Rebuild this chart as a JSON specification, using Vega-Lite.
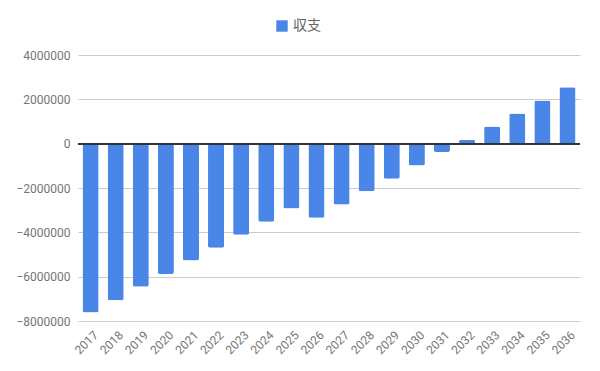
{
  "$schema": "https://vega.github.io/schema/vega-lite/v6.json",
  "autosize": {"type": "none"},
  "width": 502,
  "height": 266,
  "padding": {"left": 78, "top": 55, "right": 20, "bottom": 50},
  "background": "white",
  "config": {
    "view": {"stroke": null},
    "font": "Roboto",
    "axis": {"labelFont": "Roboto", "labelColor": "#757575", "labelFontSize": 12}
  },
  "data": {
    "values": [
      {"year": "2017", "series": "収支", "value": -7620000},
      {"year": "2018", "series": "収支", "value": -7060000},
      {"year": "2019", "series": "収支", "value": -6450000},
      {"year": "2020", "series": "収支", "value": -5880000},
      {"year": "2021", "series": "収支", "value": -5270000},
      {"year": "2022", "series": "収支", "value": -4700000},
      {"year": "2023", "series": "収支", "value": -4110000},
      {"year": "2024", "series": "収支", "value": -3520000},
      {"year": "2025", "series": "収支", "value": -2930000},
      {"year": "2026", "series": "収支", "value": -3340000},
      {"year": "2027", "series": "収支", "value": -2750000},
      {"year": "2028", "series": "収支", "value": -2150000},
      {"year": "2029", "series": "収支", "value": -1580000},
      {"year": "2030", "series": "収支", "value": -990000},
      {"year": "2031", "series": "収支", "value": -380000},
      {"year": "2032", "series": "収支", "value": 170000},
      {"year": "2033", "series": "収支", "value": 770000},
      {"year": "2034", "series": "収支", "value": 1360000},
      {"year": "2035", "series": "収支", "value": 1950000},
      {"year": "2036", "series": "収支", "value": 2550000}
    ]
  },
  "layer": [
    {
      "mark": {"type": "bar", "cornerRadius": 2},
      "encoding": {
        "x": {
          "field": "year", "type": "ordinal", "title": null,
          "scale": {"paddingInner": 0.36, "paddingOuter": 0.18},
          "axis": {"labelAngle": -45, "labelAlign": "right", "labelBaseline": "top", "ticks": false, "domain": false, "labelPadding": 8, "labelOffset": 2}
        },
        "y": {
          "field": "value", "type": "quantitative", "title": null,
          "scale": {"domain": [-8000000, 4000000], "nice": false},
          "axis": {"values": [-8000000, -6000000, -4000000, -2000000, 0, 2000000, 4000000], "format": "d", "ticks": false, "domain": false, "gridColor": "#cccccc", "labelPadding": 8}
        },
        "color": {
          "field": "series", "type": "nominal",
          "scale": {"range": ["#4a86e8"]},
          "legend": {"title": null, "orient": "none", "legendX": 197, "legendY": -36, "symbolType": "square", "symbolSize": 130, "labelFontSize": 14, "labelColor": "#666666", "labelFont": "Noto Sans CJK JP", "direction": "horizontal", "symbolStrokeWidth": 0}
        }
      }
    },
    {
      "mark": {"type": "rule", "color": "#333333", "strokeWidth": 1},
      "encoding": {"y": {"datum": 0}}
    }
  ]
}
